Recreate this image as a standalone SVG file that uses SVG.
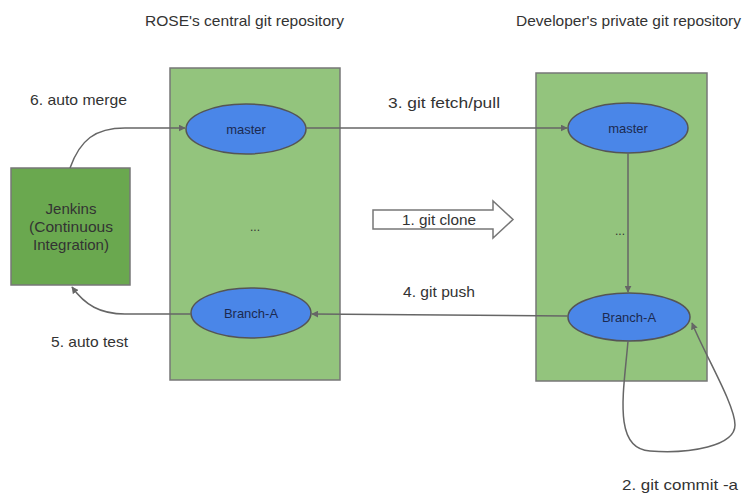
<svg xmlns="http://www.w3.org/2000/svg" width="743" height="494" viewBox="0 0 743 494">
<style>
text{font-family:"Liberation Sans",Arial,sans-serif;fill:#333}
.repo{fill:#93c47d;stroke:#777;stroke-width:1.5}
.br{fill:#4a86e8;stroke:#555;stroke-width:1.5}
.bt{fill:#1c2a50;font-size:13px;text-anchor:middle}
.lbl{font-size:15px}
.con{fill:none;stroke:#666;stroke-width:1.5}
</style>
<defs>
<marker id="ah" viewBox="0 0 10 10" refX="9" refY="5" markerWidth="7" markerHeight="7" orient="auto" markerUnits="userSpaceOnUse">
<path d="M0,0 L10,5 L0,10 z" fill="#666"/>
</marker>
</defs>
<rect width="743" height="494" fill="#fff"/>
<text class="lbl" x="145" y="26" textLength="199" lengthAdjust="spacingAndGlyphs">ROSE's central git repository</text>
<text class="lbl" x="516" y="26" textLength="225" lengthAdjust="spacingAndGlyphs">Developer's private git repository</text>
<g id="central">
<rect class="repo" x="170" y="68" width="170" height="312"/>
<text x="255" y="231" font-size="12" text-anchor="middle">...</text>
</g>
<g id="private">
<rect class="repo" x="536" y="73" width="171" height="308"/>
<text x="620" y="235" font-size="12" text-anchor="middle">...</text>
</g>
<g id="jenkins">
<rect x="11" y="168" width="119" height="117" fill="#6aa84f" stroke="#777" stroke-width="1.5"/>
<text x="71" y="214" font-size="15" text-anchor="middle" fill="#222">Jenkins</text>
<text x="71" y="232" font-size="15" text-anchor="middle" fill="#222" textLength="84" lengthAdjust="spacingAndGlyphs">(Continuous</text>
<text x="71" y="250" font-size="15" text-anchor="middle" fill="#222">Integration)</text>
</g>
<g id="c-master">
<ellipse class="br" cx="246" cy="129" rx="60" ry="25"/>
<text class="bt" x="246" y="134" font-size="14">master</text>
</g>
<g id="c-brancha">
<ellipse class="br" cx="251" cy="313" rx="60" ry="25"/>
<text class="bt" x="251" y="318">Branch-A</text>
</g>
<g id="p-master">
<ellipse class="br" cx="628" cy="128" rx="60" ry="25"/>
<text class="bt" x="628" y="133" font-size="12">master</text>
</g>
<g id="p-brancha">
<ellipse class="br" cx="629" cy="317" rx="61" ry="24"/>
<text class="bt" x="629" y="322">Branch-A</text>
</g>
<g id="connectors">
<path class="con" d="M306,128 L567,128" marker-end="url(#ah)"/>
<path class="con" d="M628,153 L628,292" marker-end="url(#ah)"/>
<path class="con" d="M568,316 L312,314" marker-end="url(#ah)"/>
<path class="con" d="M191,314 L125,314 C100,314 85,305 72,287" marker-end="url(#ah)"/>
<path class="con" d="M70,168 C80,140 95,128 125,128 L185,128" marker-end="url(#ah)"/>
<path class="con" d="M628,341 C624,390 612,449 650,451 C690,454 735,446 735,425 C735,405 705,355 692,323" marker-end="url(#ah)"/>
<path d="M373,210 L493,210 L493,201 L513,219.5 L493,238 L493,229 L373,229 z" fill="#fff" stroke="#777" stroke-width="1.5"/>
<text class="lbl" x="439" y="225" text-anchor="middle" textLength="74" lengthAdjust="spacingAndGlyphs">1. git clone</text>
</g>
<text class="lbl" x="30" y="105" textLength="97" lengthAdjust="spacingAndGlyphs">6. auto merge</text>
<text class="lbl" x="388" y="108" textLength="112" lengthAdjust="spacingAndGlyphs">3. git fetch/pull</text>
<text class="lbl" x="51" y="347" textLength="77" lengthAdjust="spacingAndGlyphs">5. auto test</text>
<text class="lbl" x="403" y="297" textLength="72" lengthAdjust="spacingAndGlyphs">4. git push</text>
<text class="lbl" x="622" y="490" textLength="116" lengthAdjust="spacingAndGlyphs">2. git commit -a</text>
</svg>
